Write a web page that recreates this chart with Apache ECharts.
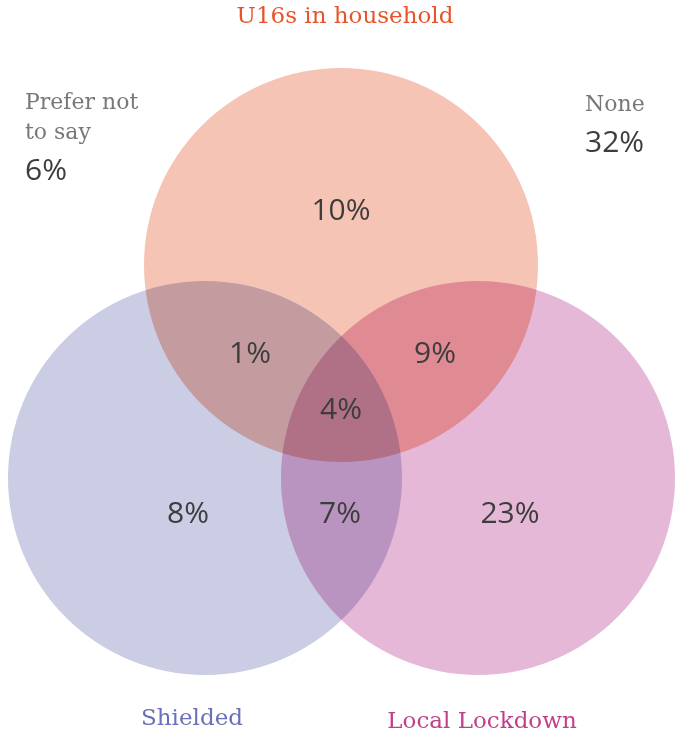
<!DOCTYPE html>
<html>
<head>
<meta charset="utf-8">
<script src="https://cdn.jsdelivr.net/npm/echarts@6/dist/echarts.min.js"></script>
<style>html,body{margin:0;padding:0;background:#fff}#c{width:675px;height:731px}</style>
</head>
<body>
<div id="c"></div>
<script>
// Sets (circles): name, centre x, centre y, radius (chart units)
const setNames = ['U16s in household', 'Shielded', 'Local Lockdown'];
const setCx = [341, 205, 478];
const setCy = [265, 478, 478];
const setR = [197, 197, 197];

// Layers to paint: which sets overlap, and the fill of that overlap
const layerSets = [[0], [1], [2], [0, 1], [0, 2], [1, 2], [0, 1, 2]];
const layerColors = ['#F6C4B4', '#CACDE4', '#E6B8D8', '#C49B9F', '#E08A94', '#B994C0', '#B07086'];

// Region values (percent of respondents)
const regionNames = ['U16s only', 'U16s & Shielded', 'U16s & Local Lockdown', 'All three', 'Shielded only', 'Shielded & Local Lockdown', 'Local Lockdown only'];
const regionValues = [10, 1, 9, 4, 8, 7, 23];
const regionX = [341, 250, 435, 341, 188, 340, 510];
const regionY = [211, 354, 354, 410, 514, 514, 514];

// Outside categories
const outsideNames = ['Prefer not\nto say', 'None'];
const outsideValues = [6, 32];
const outsideX = [25, 585];
const outsideY = [88, 90];

// Set label positions
const setLabelX = [345, 192, 482];
const setLabelY = [17, 719, 722];
const setLabelColors = ['#E8532B', '#6A70B8', '#C0408A'];

const chart = echarts.init(document.getElementById('c'), null, {renderer: 'canvas'});

function circleShape(api, i) {
  const c = api.coord([setCx[i], setCy[i]]);
  const r = api.size([setR[i], 0])[0];
  return {cx: c[0], cy: c[1], r: r};
}

const option = {
  animation: false,
  grid: {left: 0, right: 0, top: 0, bottom: 0},
  xAxis: {type: 'value', min: 0, max: 675, show: false},
  yAxis: {type: 'value', min: 0, max: 731, inverse: true, show: false},
  series: [
    {
      type: 'custom',
      data: layerSets.map((s, i) => [setCx[s[0]], setCy[s[0]], i]),
      renderItem: function (params, api) {
        const li = api.value(2);
        const s = layerSets[li];
        let el = {
          type: 'circle',
          shape: circleShape(api, s[0]),
          style: {fill: layerColors[li]}
        };
        if (s.length >= 2) {
          el.clipPath = {type: 'circle', shape: circleShape(api, s[1])};
        }
        if (s.length === 3) {
          el = {
            type: 'group',
            children: [el],
            clipPath: {type: 'circle', shape: circleShape(api, s[2])}
          };
        }
        return el;
      },
      silent: true,
      z: 1
    },
    {
      type: 'scatter',
      symbolSize: 0,
      z: 3,
      itemStyle: {opacity: 1},
      data: regionValues.map((v, i) => ({name: regionNames[i], value: [regionX[i], regionY[i], v]})),
      label: {
        show: true,
        position: 'inside',
        formatter: p => p.value[2] + '%',
        fontFamily: 'Open Sans',
        fontSize: 30,
        color: '#3D3D3D',
        opacity: 1
      },
      emphasis: {disabled: true},
      silent: true
    },
    {
      type: 'scatter',
      symbolSize: 0,
      z: 3,
      itemStyle: {opacity: 1},
      data: setNames.map((n, i) => ({name: n, value: [setLabelX[i], setLabelY[i]], label: {color: setLabelColors[i]}})),
      label: {
        show: true,
        position: 'inside',
        formatter: p => p.name,
        fontFamily: 'DejaVu Serif',
        fontSize: 23,
        opacity: 1
      },
      emphasis: {disabled: true},
      silent: true
    },
    {
      type: 'scatter',
      symbolSize: 0,
      z: 3,
      itemStyle: {opacity: 1},
      data: outsideNames.map((n, i) => ({name: n, value: [outsideX[i], outsideY[i], outsideValues[i]]})),
      label: {
        show: true,
        position: [0, 0],
        align: 'left',
        verticalAlign: 'top',
        padding: 0,
        opacity: 1,
        formatter: p => '{n|' + p.name.split('\n').join('}\n{n|') + '}\n{v|' + p.value[2] + '%}',
        rich: {
          n: {fontFamily: 'DejaVu Serif', fontSize: 22, color: '#777777', lineHeight: 30},
          v: {fontFamily: 'Open Sans', fontSize: 30, color: '#3D3D3D', lineHeight: 46}
        }
      },
      emphasis: {disabled: true},
      silent: true
    }
  ]
};
chart.setOption(option);
</script>
</body>
</html>
